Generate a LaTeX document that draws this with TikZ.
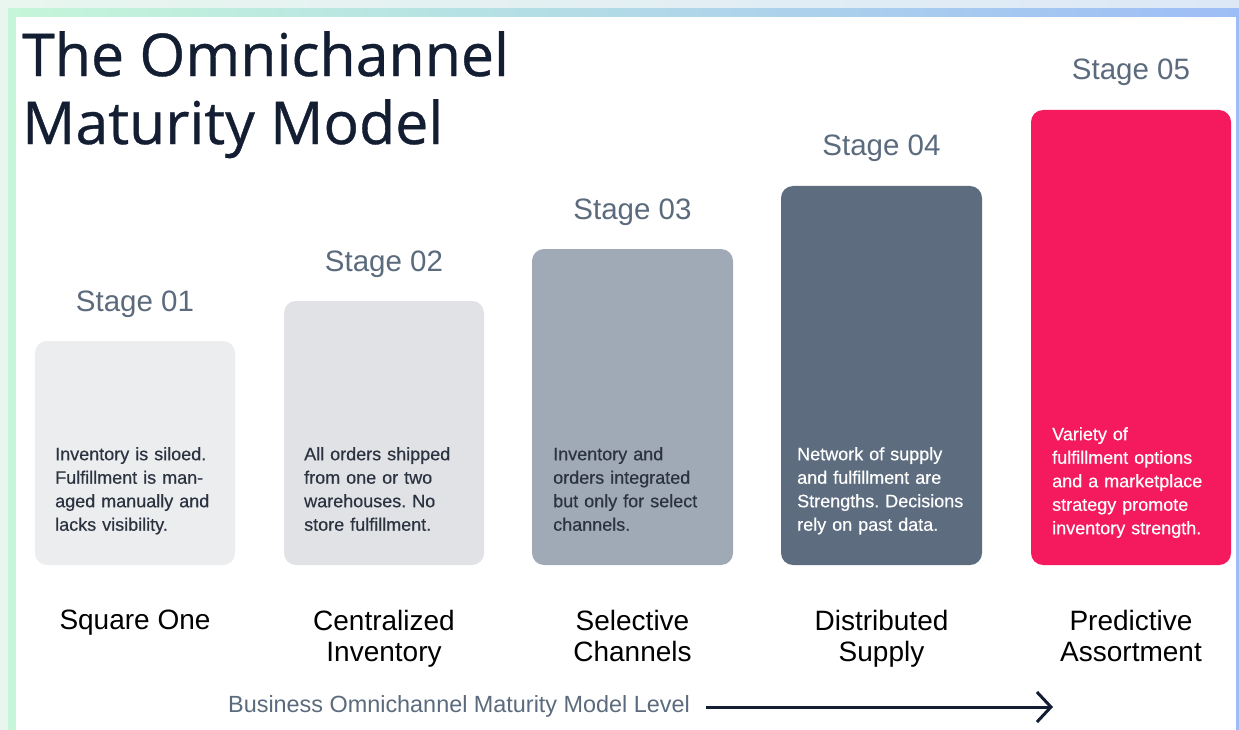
\documentclass[tikz,border=0pt]{standalone}
\usepackage{fontspec}
\setmainfont{Liberation Sans}
\newfontfamily\headfont{Open Sans}[FakeBold=0.6]
\newfontfamily\descfont{Liberation Sans}[FakeBold=0.4]
\usetikzlibrary{arrows.meta,positioning}
\frenchspacing

\definecolor{ink}{HTML}{141E33}
\definecolor{slate}{HTML}{5B6B7D}
\definecolor{bodyink}{HTML}{2B3240}
\definecolor{barA}{HTML}{ECEDEF}
\definecolor{barB}{HTML}{E1E2E6}
\definecolor{barC}{HTML}{A0A9B6}
\definecolor{barD}{HTML}{5D6D7F}
\definecolor{barE}{HTML}{F5195E}
\definecolor{bgL}{HTML}{E8F6EF}
\definecolor{bgR}{HTML}{DDE8F7}
\definecolor{rimL}{HTML}{C5F6D9}
\definecolor{rimR}{HTML}{9DBDF6}

\tikzset{
  bar/.style={rounded corners=12pt, inner sep=0pt},
  stagelbl/.style={anchor=base, text=slate, font=\fontsize{29.5}{32}\selectfont},
  desc/.style={anchor=north west, inner sep=0pt, text width=180pt, align=left,
               font=\descfont\fontsize{18}{23.5}\selectfont},
  namelbl/.style={anchor=north, inner sep=0pt, align=center, text=black,
                  font=\fontsize{28}{31}\selectfont}
}

\begin{document}
\begin{tikzpicture}[x=1pt, y=-1pt]
  % frame
  \fill[left color=bgL, right color=bgR] (0,0) rectangle (1239,730);
  \fill[left color=rimL, right color=rimR] (8,9) rectangle (1239,730);
  \fill[white] (16,17) rectangle (1236,730);
  \useasboundingbox (0,0) rectangle (1239,730);

  \node[anchor=north west, inner sep=0pt, align=left, text=ink,
        font=\headfont\fontsize{59}{68}\selectfont] (title) at (22,31)
        {The Omnichannel\\Maturity Model};

  % the five bars
  \fill[bar, barA] (35,341) rectangle (235,565);
  \fill[bar, barB] (284,301) rectangle (484,565);
  \fill[bar, barC] (532,249) rectangle (733,565);
  \fill[bar, barD] (781,186) rectangle (982,565);
  \fill[bar, barE] (1031,110) rectangle (1231,565);
  \coordinate (b1) at (135,341);
  \coordinate (b2) at (384,301);
  \coordinate (b3) at (632.5,249);
  \coordinate (b4) at (881.5,186);
  \coordinate (b5) at (1131,110);

  \node[stagelbl] (s1) at ([yshift=30pt]b1) {Stage 01};
  \node[stagelbl] (s2) at ([yshift=30pt]b2) {Stage 02};
  \node[stagelbl] (s3) at ([yshift=30pt]b3) {Stage 03};
  \node[stagelbl] (s4) at ([yshift=30pt]b4) {Stage 04};
  \node[stagelbl] (s5) at ([yshift=30pt]b5) {Stage 05};

  \node[desc, text=bodyink] (d1) at (55,447)
    {Inventory is siloed.\\Fulfillment is man-\\aged manually and\\lacks visibility.};
  \node[desc, text=bodyink] (d2) at (304,447)
    {All orders shipped\\from one or two\\warehouses. No\\store fulfillment.};
  \node[desc, text=bodyink] (d3) at (553,447)
    {Inventory and\\orders integrated\\but only for select\\channels.};
  \node[desc, text=white] (d4) at (797,447)
    {Network of supply\\and fulfillment are\\Strengths. Decisions\\rely on past data.};
  \node[desc, text=white] (d5) at (1052,427)
    {Variety of\\fulfillment options\\and a marketplace\\strategy promote\\inventory strength.};

  \node[namelbl] (n1) at (135,610) {Square One};
  \node[namelbl] (n2) at (384,610) {Centralized\\Inventory};
  \node[namelbl] (n3) at (632.5,610) {Selective\\Channels};
  \node[namelbl] (n4) at (881.5,610) {Distributed\\Supply};
  \node[namelbl] (n5) at (1131,610) {Predictive\\Assortment};

  % level axis
  \node[anchor=base west, inner sep=0pt, text=slate, font=\fontsize{23.4}{25}\selectfont]
    (lvl) at (228,712) {Business Omnichannel Maturity Model Level};
  \coordinate (lvlend) at (1053,707);
  \draw[-{Straight Barb[length=14pt, width=30pt]}, line width=3pt, ink]
    ([xshift=16pt, yshift=5pt]lvl.base east) -- (lvlend);
\end{tikzpicture}
\end{document}
